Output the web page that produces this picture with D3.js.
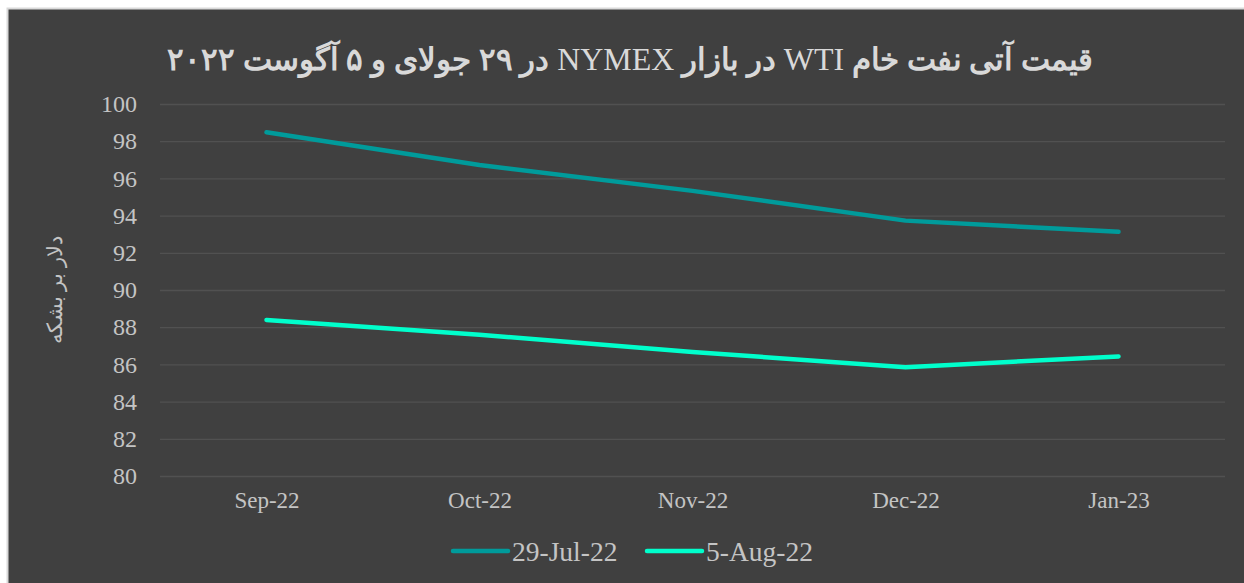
<!DOCTYPE html>
<html lang="en">
  <head>
    <meta charset="utf-8" />
    <title>WTI futures</title>
    <style>
      body { margin: 0; background: #fff; }
      text { font-family: "Liberation Serif", "DejaVu Serif", serif; }
    </style>
  </head>
  <body>
    <script src="https://d3js.org/d3.v7.min.js"></script>
    <div id="my_dataviz"></div>
    <script>
      // data
      const months = ["Sep-22", "Oct-22", "Nov-22", "Dec-22", "Jan-23"];
      const jul29 = [98.48, 96.72, 95.33, 93.73, 93.13];
      const aug5 = [88.39, 87.59, 86.67, 85.85, 86.43];
      const yTicks = [80, 82, 84, 86, 88, 90, 92, 94, 96, 98, 100];
      const seriesNames = ["29-Jul-22", "5-Aug-22"];
      const colors = ["#009b9b", "#00ffcc"];

      const W = 1244, H = 583;
      const margin = { top: 104, right: 19, bottom: 107, left: 160 };
      const width = W - margin.left - margin.right,
        height = H - margin.top - margin.bottom;

      const svg = d3.select("#my_dataviz")
        .append("svg")
        .attr("width", W)
        .attr("height", H);

      // chart background with light border
      svg.append("rect")
        .attr("x", 7.5).attr("y", 8.5)
        .attr("width", W).attr("height", H)
        .attr("fill", "#404040")
        .attr("stroke", "#d9d9d9")
        .attr("stroke-width", 2);

      const g = svg.append("g")
        .attr("transform", `translate(${margin.left},${margin.top})`);

      const x = d3.scalePoint().domain(months).range([0, width]).padding(0.5);
      const y = d3.scaleLinear().domain([80, 100]).range([height, 0]);

      // gridlines + y labels
      const yAxis = g.append("g")
        .call(d3.axisLeft(y).tickValues(yTicks).tickSize(-width).tickPadding(23).tickFormat(d3.format("d")));
      yAxis.select(".domain").remove();
      yAxis.selectAll(".tick line").attr("stroke", "#515151").attr("stroke-width", 1.3);
      yAxis.selectAll(".tick text")
        .attr("fill", "#c4c4c4")
        .style("font-size", "24px")
        .style("font-family", "Liberation Serif");

      // x labels
      const xAxis = g.append("g")
        .attr("transform", `translate(0,${height})`)
        .call(d3.axisBottom(x).tickSize(0).tickPadding(16));
      xAxis.select(".domain").remove();
      xAxis.selectAll(".tick text")
        .attr("fill", "#c4c4c4")
        .style("font-size", "23px")
        .style("font-family", "Liberation Serif");

      // lines
      const line = d3.line()
        .x((d, i) => x(months[i]))
        .y(d => y(d));

      [jul29, aug5].forEach((s, k) => {
        g.append("path")
          .datum(s)
          .attr("fill", "none")
          .attr("stroke", colors[k])
          .attr("stroke-width", 4.5)
          .attr("stroke-linecap", "round")
          .attr("stroke-linejoin", "round")
          .attr("d", line);
      });

      // title (latin words in regular weight like the original)
      const title = svg.append("text")
        .attr("x", 630)
        .attr("y", 70)
        .attr("text-anchor", "middle")
        .attr("direction", "rtl")
        .attr("fill", "#d9d9d9")
        .style("font-size", "31px")
        .style("font-weight", "bold");
      const titleParts = [
        ["قیمت آتی نفت خام ", true],
        ["WTI", false],
        [" در بازار ", true],
        ["NYMEX", false],
        [" در ۲۹ جولای و ۵ آگوست ۲۰۲۲", true]
      ];
      titleParts.forEach(([t, b]) => {
        title.append("tspan")
          .style("font-weight", b ? "bold" : "normal")
          .style("font-size", b ? "31px" : "32px")
          .text(t);
      });

      // y axis title
      svg.append("text")
        .attr("transform", "translate(62,290) rotate(-90)")
        .attr("text-anchor", "middle")
        .attr("direction", "rtl")
        .attr("fill", "#c4c4c4")
        .style("font-size", "21px")
        .text("دلار بر بشکه");

      // legend
      const legendX = [453, 647];
      seriesNames.forEach((name, k) => {
        const lg = svg.append("g").attr("transform", `translate(${legendX[k]},551)`);
        lg.append("line")
          .attr("x1", 0).attr("x2", 55)
          .attr("stroke", colors[k])
          .attr("stroke-width", 4.5)
          .attr("stroke-linecap", "round");
        lg.append("text")
          .attr("x", 59)
          .attr("y", 10)
          .attr("fill", "#c4c4c4")
          .style("font-size", "27.5px")
          .text(name);
      });
    </script>
  </body>
</html>
